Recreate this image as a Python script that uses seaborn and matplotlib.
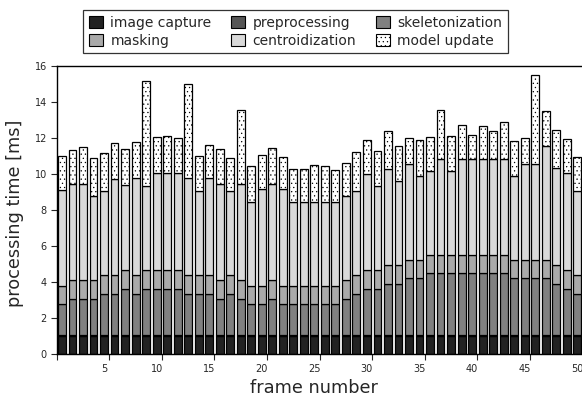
import matplotlib
matplotlib.use("Agg")
import matplotlib.pyplot as plt
from matplotlib.patches import Patch
import seaborn as sns
import pandas as pd

frames = list(range(1, 51))
components = ["image capture", "preprocessing", "skeletonization",
              "masking", "centroidization", "model update"]

image_capture = [1.00] * 50
preprocessing = [0.05] * 50
skeletonization = [1.75, 2.02, 2.02, 2.02, 2.30, 2.30, 2.58, 2.30, 2.58, 2.58,
                   2.58, 2.58, 2.30, 2.30, 2.30, 2.02, 2.30, 2.02, 1.75, 1.75,
                   2.02, 1.75, 1.75, 1.75, 1.75, 1.75, 1.75, 2.02, 2.30, 2.58,
                   2.58, 2.86, 2.86, 3.15, 3.15, 3.43, 3.43, 3.43, 3.43, 3.43,
                   3.43, 3.43, 3.43, 3.15, 3.15, 3.15, 3.15, 2.86, 2.58, 2.30]
masking = [1.00, 1.02, 1.02, 1.02, 1.02, 1.02, 1.02, 1.02, 1.02, 1.02,
           1.02, 1.02, 1.02, 1.02, 1.02, 1.02, 1.02, 1.02, 1.00, 1.00,
           1.02, 1.00, 1.00, 1.00, 1.00, 1.00, 1.00, 1.02, 1.02, 1.02,
           1.02, 1.02, 1.02, 1.02, 1.02, 1.04, 1.04, 1.04, 1.04, 1.04,
           1.04, 1.04, 1.04, 1.02, 1.02, 1.02, 1.02, 1.02, 1.02, 1.02]
centroidization = [5.33, 5.34, 5.34, 4.69, 4.67, 5.35, 4.72, 5.39, 4.68, 5.39,
                   5.39, 5.39, 5.39, 4.67, 5.39, 5.35, 4.67, 5.34, 4.67, 5.34,
                   5.34, 5.34, 4.67, 4.67, 4.67, 4.67, 4.67, 4.67, 4.67, 5.35,
                   4.66, 5.35, 4.66, 5.35, 4.67, 4.67, 5.33, 4.67, 5.33, 5.33,
                   5.33, 5.33, 5.33, 4.67, 5.34, 5.34, 6.35, 5.38, 5.39, 4.67]
model_update = [1.89, 1.92, 2.09, 2.09, 2.15, 2.02, 2.02, 2.04, 5.86, 2.03,
                2.07, 1.96, 5.24, 1.94, 1.87, 1.93, 1.83, 4.13, 1.95, 1.92,
                2.03, 1.81, 1.83, 1.83, 2.04, 1.95, 1.78, 1.87, 2.16, 1.91,
                1.95, 2.13, 1.98, 1.43, 2.02, 1.87, 2.72, 1.94, 1.87, 1.32,
                1.84, 1.54, 2.02, 1.96, 1.46, 4.94, 1.91, 2.13, 1.89, 1.92]

tick_labels = ["5", "10", "15", "20", "25", "30", "35", "40", "45", "50"]
label_positions = [5, 10, 15, 20, 25, 30, 35, 40, 45, 50]

colors = {"image capture": "#222222", "preprocessing": "#555555",
          "skeletonization": "#808080", "masking": "#aaaaaa",
          "centroidization": "#d9d9d9", "model update": "#ffffff"}

series = [image_capture, preprocessing, skeletonization, masking,
          centroidization, model_update]
df = pd.concat([pd.DataFrame({"frame": frames, "time": vals, "component": name})
                for name, vals in zip(components, series)], ignore_index=True)

sns.set_style("ticks")
plt.rcParams["font.family"] = ["DejaVu Sans"]
plt.rcParams["hatch.color"] = "#333333"
plt.rcParams["hatch.linewidth"] = 0.4

fig = plt.figure(figsize=(5.82, 4.0), dpi=100)
ax = fig.add_axes([56.7 / 582, 46 / 400, 1 - 56.7 / 582, 288 / 400])

sns.histplot(data=df, x="frame", weights="time", hue="component",
             hue_order=components[::-1], multiple="stack", discrete=True,
             shrink=0.75, palette=colors, alpha=1, edgecolor="black",
             linewidth=0.9, legend=False, ax=ax)

for p in ax.patches:
    fc = p.get_facecolor()
    if fc[0] > 0.99 and fc[1] > 0.99 and fc[2] > 0.99:
        p.set_hatch("....")

ax.set_xlim(0.5, 50.45)
ax.set_ylim(0, 16)
ax.set_yticks(range(0, 17, 2))
ax.set_xticks(label_positions)
ax.set_xticklabels(tick_labels)
ax.set_xticks([0.5] + [p + 0.5 for p in label_positions[:-1]], minor=True)
ax.tick_params(axis="x", which="major", length=0, pad=7, labelsize=7)
ax.tick_params(axis="x", which="minor", length=4, width=0.8, direction="out")
ax.tick_params(axis="y", length=4, width=0.8, pad=3, labelsize=7)

for s in ["left", "bottom", "top"]:
    ax.spines[s].set_visible(True)
    ax.spines[s].set_color("black")
    ax.spines[s].set_linewidth(1.0)
ax.spines["right"].set_visible(False)

ax.set_xlabel("frame number", fontsize=12.8)
ax.set_ylabel("processing time [ms]", fontsize=12.8)
ax.xaxis.set_label_coords(0.49, -0.088)
ax.yaxis.set_label_coords(-0.063, 0.49)

legend_order = ["image capture", "masking", "preprocessing",
                "centroidization", "skeletonization", "model update"]
handles = [Patch(facecolor=colors[c], edgecolor="black", linewidth=0.8,
                 hatch="...." if c == "model update" else None)
           for c in legend_order]
leg = fig.legend(handles, legend_order, loc="upper center",
                 bbox_to_anchor=(295.5 / 582, 1 - 10 / 400), ncol=3,
                 fontsize=10, frameon=True, fancybox=False, edgecolor="black",
                 handlelength=1.0, handleheight=1.0, handletextpad=0.55,
                 columnspacing=1.4, labelspacing=0.3, borderpad=0.4,
                 borderaxespad=0)
leg.get_frame().set_linewidth(0.9)

fig.savefig("out.png", dpi=100)
